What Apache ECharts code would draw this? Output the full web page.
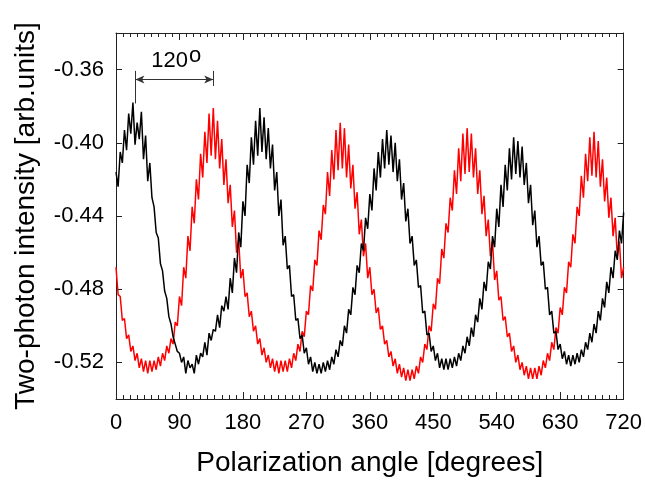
<!DOCTYPE html>
<html>
<head>
<meta charset="utf-8">
<script src="https://cdn.jsdelivr.net/npm/echarts@6/dist/echarts.min.js"></script>
<style>
html,body{margin:0;padding:0;background:#fff;}
#chart{width:645px;height:482px;}
</style>
</head>
<body>
<div id="chart"></div>
<script>
// Polarization angle samples (degrees)
const angles = [0,3,6,9,12,15,18,21,24,27,30,33,36,39,42,45,48,51,54,57,60,63,66,69,72,75,78,81,84,87,90,93,96,99,102,105,108,111,114,117,120,123,126,129,132,135,138,141,144,147,150,153,156,159,162,165,168,171,174,177,180,183,186,189,192,195,198,201,204,207,210,213,216,219,222,225,228,231,234,237,240,243,246,249,252,255,258,261,264,267,270,273,276,279,282,285,288,291,294,297,300,303,306,309,312,315,318,321,324,327,330,333,336,339,342,345,348,351,354,357,360,363,366,369,372,375,378,381,384,387,390,393,396,399,402,405,408,411,414,417,420,423,426,429,432,435,438,441,444,447,450,453,456,459,462,465,468,471,474,477,480,483,486,489,492,495,498,501,504,507,510,513,516,519,522,525,528,531,534,537,540,543,546,549,552,555,558,561,564,567,570,573,576,579,582,585,588,591,594,597,600,603,606,609,612,615,618,621,624,627,630,633,636,639,642,645,648,651,654,657,660,663,666,669,672,675,678,681,684,687,690,693,696,699,702,705,708,711,714,717,720];

// Black trace (two-photon intensity)
const blackSignal = [
-0.416,-0.424,-0.405,-0.411,-0.393,-0.404,-0.384,-0.395,-0.378,-0.401,
-0.389,-0.398,-0.383,-0.409,-0.396,-0.421,-0.411,-0.430,-0.435,-0.449,
-0.452,-0.466,-0.470,-0.481,-0.485,-0.495,-0.499,-0.506,-0.510,-0.514,
-0.515,-0.520,-0.517,-0.526,-0.519,-0.523,-0.521,-0.526,-0.516,-0.521,
-0.515,-0.517,-0.509,-0.516,-0.504,-0.508,-0.502,-0.503,-0.494,-0.501,
-0.489,-0.492,-0.484,-0.491,-0.474,-0.482,-0.463,-0.471,-0.449,-0.457,
-0.432,-0.440,-0.412,-0.422,-0.397,-0.412,-0.388,-0.407,-0.381,-0.405,
-0.386,-0.409,-0.392,-0.414,-0.401,-0.426,-0.416,-0.440,-0.431,-0.456,
-0.451,-0.469,-0.467,-0.484,-0.483,-0.497,-0.496,-0.507,-0.505,-0.515,
-0.512,-0.521,-0.517,-0.525,-0.520,-0.526,-0.521,-0.526,-0.520,-0.525,
-0.519,-0.524,-0.517,-0.521,-0.513,-0.517,-0.508,-0.511,-0.500,-0.504,
-0.491,-0.494,-0.479,-0.483,-0.467,-0.471,-0.455,-0.459,-0.441,-0.447,
-0.428,-0.437,-0.414,-0.426,-0.405,-0.419,-0.398,-0.414,-0.393,-0.412,
-0.396,-0.416,-0.400,-0.421,-0.409,-0.431,-0.422,-0.443,-0.436,-0.455,
-0.451,-0.467,-0.464,-0.479,-0.478,-0.493,-0.492,-0.505,-0.504,-0.514,
-0.511,-0.519,-0.515,-0.523,-0.518,-0.524,-0.518,-0.524,-0.518,-0.523,
-0.517,-0.522,-0.515,-0.519,-0.511,-0.515,-0.506,-0.511,-0.501,-0.506,
-0.494,-0.498,-0.485,-0.491,-0.476,-0.481,-0.465,-0.469,-0.451,-0.457,
-0.436,-0.446,-0.423,-0.435,-0.412,-0.426,-0.403,-0.420,-0.397,-0.417,
-0.399,-0.419,-0.402,-0.423,-0.411,-0.433,-0.423,-0.445,-0.437,-0.457,
-0.451,-0.467,-0.465,-0.480,-0.479,-0.494,-0.492,-0.504,-0.503,-0.513,
-0.510,-0.518,-0.514,-0.521,-0.516,-0.522,-0.516,-0.521,-0.515,-0.520,
-0.513,-0.517,-0.509,-0.513,-0.504,-0.509,-0.499,-0.504,-0.492,-0.497,
-0.485,-0.490,-0.476,-0.482,-0.468,-0.474,-0.459,-0.464,-0.448,-0.455,
-0.438];

// Red trace (two-photon intensity)
const redSignal = [
-0.468,-0.483,-0.484,-0.497,-0.496,-0.507,-0.505,-0.514,-0.511,-0.519,
-0.515,-0.523,-0.518,-0.525,-0.519,-0.526,-0.519,-0.525,-0.519,-0.524,
-0.517,-0.522,-0.515,-0.519,-0.511,-0.515,-0.507,-0.510,-0.498,-0.500,
-0.484,-0.489,-0.468,-0.474,-0.451,-0.459,-0.435,-0.444,-0.420,-0.431,
-0.406,-0.419,-0.394,-0.411,-0.384,-0.407,-0.381,-0.409,-0.388,-0.414,
-0.398,-0.423,-0.409,-0.433,-0.423,-0.446,-0.437,-0.460,-0.453,-0.474,
-0.469,-0.484,-0.482,-0.495,-0.492,-0.503,-0.500,-0.510,-0.507,-0.516,
-0.512,-0.520,-0.516,-0.523,-0.518,-0.525,-0.519,-0.526,-0.519,-0.525,
-0.519,-0.525,-0.518,-0.523,-0.515,-0.519,-0.510,-0.514,-0.503,-0.506,
-0.492,-0.494,-0.478,-0.481,-0.464,-0.467,-0.448,-0.453,-0.434,-0.439,
-0.416,-0.429,-0.404,-0.420,-0.393,-0.415,-0.389,-0.414,-0.392,-0.419,
-0.401,-0.425,-0.412,-0.436,-0.427,-0.450,-0.442,-0.462,-0.455,-0.474,
-0.468,-0.483,-0.480,-0.493,-0.490,-0.502,-0.500,-0.510,-0.508,-0.517,
-0.514,-0.522,-0.518,-0.526,-0.521,-0.528,-0.523,-0.530,-0.524,-0.530,
-0.524,-0.529,-0.522,-0.526,-0.517,-0.520,-0.510,-0.513,-0.500,-0.503,
-0.488,-0.491,-0.474,-0.477,-0.458,-0.463,-0.444,-0.449,-0.430,-0.437,
-0.415,-0.428,-0.403,-0.421,-0.395,-0.417,-0.392,-0.416,-0.395,-0.419,
-0.403,-0.428,-0.415,-0.439,-0.429,-0.451,-0.442,-0.462,-0.454,-0.475,
-0.470,-0.486,-0.484,-0.497,-0.495,-0.506,-0.504,-0.514,-0.511,-0.520,
-0.516,-0.524,-0.520,-0.527,-0.522,-0.529,-0.523,-0.529,-0.523,-0.529,
-0.522,-0.527,-0.519,-0.523,-0.515,-0.519,-0.509,-0.513,-0.501,-0.504,
-0.490,-0.494,-0.479,-0.482,-0.465,-0.468,-0.450,-0.455,-0.435,-0.440,
-0.418,-0.430,-0.406,-0.421,-0.397,-0.418,-0.394,-0.419,-0.399,-0.424,
-0.409,-0.432,-0.419,-0.441,-0.430,-0.451,-0.441,-0.462,-0.454,-0.474,
-0.468];

// Tick labels
const xTickValues = [0,90,180,270,360,450,540,630,720];
const yTickValues = [-0.52,-0.48,-0.44,-0.40,-0.36];

// Annotation "120o" arrow (data coordinates)
const arrowAngles = [27.5, 137.9];
const arrowLevel = -0.3654;
const barTop = -0.3607;
const leftBarBottom = -0.3785;
const rightBarBottom = -0.3690;
const labelNumberPos = [75.9, -0.3551];
const labelDegreePos = [112.3, -0.3528];

const FONT = '"Liberation Sans", Arial, Helvetica, sans-serif';
const AX = '#222';

const pairs = (xs, ys) => xs.map((x, i) => [x, ys[i]]);

const chart = echarts.init(document.getElementById('chart'), null, {renderer: 'canvas'});

const baseX = {
  type: 'value', min: 0, max: 720, interval: 90,
  axisLine: {show: true, onZero: false, lineStyle: {color: AX, width: 1}},
  axisTick: {show: true, inside: true, length: 7, lineStyle: {color: AX}},
  minorTick: {show: true, splitNumber: 9, length: 4, lineStyle: {color: AX}},
  splitLine: {show: false}, minorSplitLine: {show: false}
};
const baseY = {
  type: 'value', min: -0.54, max: -0.34,
  axisLine: {show: true, onZero: false, lineStyle: {color: AX, width: 1}},
  axisTick: {show: true, inside: true, length: 6, customValues: yTickValues, lineStyle: {color: AX}},
  splitLine: {show: false}
};

chart.setOption({
  animation: false,
  backgroundColor: '#fff',
  grid: {left: 116, right: 19, top: 33, bottom: 82, containLabel: false},
  xAxis: [
    Object.assign({}, baseX, {
      position: 'bottom',
      axisLabel: {show: true, customValues: xTickValues, margin: 13, fontSize: 22, color: '#000', fontFamily: FONT},
      name: 'Polarization angle [degrees]', nameLocation: 'middle', nameGap: 50,
      nameTextStyle: {fontSize: 28, color: '#000', fontFamily: FONT}
    }),
    Object.assign({}, baseX, {position: 'top', axisLabel: {show: false}})
  ],
  yAxis: [
    Object.assign({}, baseY, {
      position: 'left',
      axisLabel: {show: true, customValues: yTickValues, margin: 12, fontSize: 22, color: '#000', fontFamily: FONT,
        formatter: v => v.toFixed(2)},
      name: 'Two-photon intensity [arb.units]', nameLocation: 'middle', nameGap: 76,
      nameTextStyle: {fontSize: 28, color: '#000', fontFamily: FONT}
    }),
    Object.assign({}, baseY, {position: 'right', axisLabel: {show: false}})
  ],
  series: [
    {
      name: 'red', type: 'line', xAxisIndex: 0, yAxisIndex: 0,
      data: pairs(angles, redSignal), showSymbol: false, symbol: 'none',
      lineStyle: {color: '#ff0000', width: 1.5}, z: 2
    },
    {
      name: 'black', type: 'line', xAxisIndex: 0, yAxisIndex: 0,
      data: pairs(angles, blackSignal), showSymbol: false, symbol: 'none',
      lineStyle: {color: '#000000', width: 1.5}, z: 3
    },
    {
      name: 'annotation', type: 'line', xAxisIndex: 0, yAxisIndex: 0, data: [], z: 4,
      markLine: {
        silent: true, symbol: 'none', animation: false,
        label: {show: false},
        lineStyle: {color: '#333', width: 1, type: 'solid'},
        data: [
          [{coord: [arrowAngles[0], arrowLevel], symbol: 'arrow', symbolSize: [6, 9]},
           {coord: [arrowAngles[1], arrowLevel], symbol: 'arrow', symbolSize: [6, 9]}],
          [{coord: [arrowAngles[0], barTop]}, {coord: [arrowAngles[0], leftBarBottom]}],
          [{coord: [arrowAngles[1], barTop]}, {coord: [arrowAngles[1], rightBarBottom]}]
        ]
      },
      markPoint: {
        silent: true, symbol: 'circle', symbolSize: 0, animation: false,
        data: [
          {
            coord: labelNumberPos,
            label: {show: true, position: 'inside', align: 'center', verticalAlign: 'middle',
              formatter: '120', fontSize: 22, color: '#000', fontFamily: FONT}
          },
          {
            coord: labelDegreePos,
            label: {show: true, position: 'inside', align: 'center', verticalAlign: 'middle',
              formatter: 'o', fontSize: 22, color: '#000', fontFamily: FONT}
          }
        ]
      }
    }
  ]
});
</script>
</body>
</html>
